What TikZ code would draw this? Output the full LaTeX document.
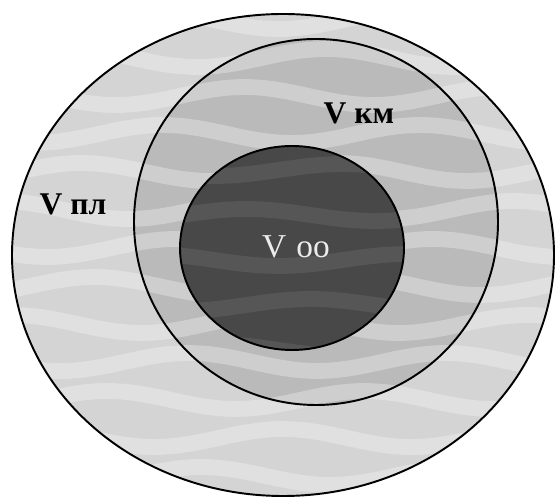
\documentclass[tikz,border=0pt]{standalone}
\usepackage{fontspec}
\setmainfont{Liberation Serif}
\usetikzlibrary{positioning}

\definecolor{outerfill}{RGB}{212,212,212}
\definecolor{midfill}{RGB}{186,186,186}
\definecolor{corefill}{RGB}{72,72,72}

\begin{document}
\begin{tikzpicture}[x=0.02cm, y=-0.02cm,
    zone/.style={draw=black, line width=1.1pt},
    streak/.style={white, line width=9pt, opacity=0.3, line cap=round},
    label/.style={font=\fontsize{18}{20}\selectfont\bfseries, inner sep=1pt}]

    \useasboundingbox (0,0) rectangle (558,502);

    % nested volumes
    \fill[outerfill] (283,255) ellipse [x radius=271, y radius=241];
    \fill[midfill] (316,222) ellipse [x radius=182, y radius=183];

    % wavy streaks of the scan
    \begin{scope}
      \clip (283,255) ellipse [x radius=271, y radius=241];
      \foreach \yy in {20,58,...,500}
        \draw[streak] plot[domain=0:558, samples=60] (\x, {\yy + 9*sin(\x*1.4 + \yy*3)});
    \end{scope}

    \fill[corefill] (292,248) ellipse [x radius=112, y radius=102];
    \begin{scope}
      \clip (292,248) ellipse [x radius=112, y radius=102];
      \foreach \yy in {170,215,...,350}
        \draw[streak, opacity=0.08] plot[domain=170:410, samples=30] (\x, {\yy + 6*sin(\x*1.4 + \yy*3)});
    \end{scope}

    \draw[zone] (283,255) ellipse [x radius=271, y radius=241];
    \draw[zone] (316,222) ellipse [x radius=182, y radius=183];
    \draw[zone] (292,248) ellipse [x radius=112, y radius=102];

    \node[label] (vpl) at (73,204) {V\hspace{0.25em}пл};
    \node[label] (vkm) at (359,113) {V\hspace{0.25em}км};
    \node[label, text=white!85!gray, font=\fontsize{19}{21}\selectfont] (voo) at (296,247) {V\hspace{0.3em}оо};
  \end{tikzpicture}
\end{document}
